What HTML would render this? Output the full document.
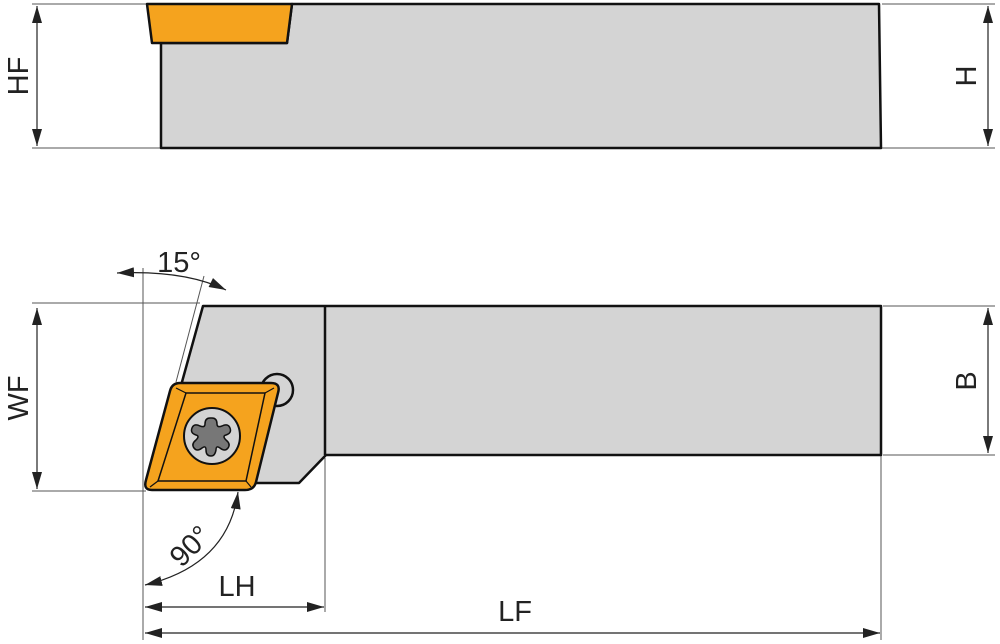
<!DOCTYPE html>
<html><head><style>body{margin:0;background:#fff}svg{display:block}text{font-family:"Liberation Sans",sans-serif;fill:#222}</style></head><body>
<svg width="1000" height="644" viewBox="0 0 1000 644" xmlns="http://www.w3.org/2000/svg">
<defs><marker id="a" viewBox="0 0 10 10" refX="10" refY="5" markerWidth="17" markerHeight="10" markerUnits="userSpaceOnUse" orient="auto-start-reverse" preserveAspectRatio="none"><path d="M0,0L10,5L0,10z" fill="#222"/></marker></defs>
<g stroke="#555" stroke-width="1" fill="none">
<line x1="32" y1="4" x2="147" y2="4"/><line x1="32" y1="148" x2="160" y2="148"/>
<line x1="882" y1="4" x2="995" y2="4"/><line x1="882" y1="148" x2="995" y2="148"/>
<line x1="32" y1="303" x2="200" y2="303"/><line x1="32" y1="491" x2="146" y2="491"/>
<line x1="883" y1="306" x2="995" y2="306"/><line x1="883" y1="455" x2="995" y2="455"/>
<line x1="143" y1="268" x2="143" y2="640"/><line x1="325" y1="458" x2="325" y2="612"/><line x1="881" y1="456" x2="881" y2="640"/>
<line x1="176" y1="382" x2="204" y2="276"/>
</g>
<g stroke="#222" stroke-width="1.2" fill="none">
<line x1="37" y1="6" x2="37" y2="146" marker-start="url(#a)" marker-end="url(#a)"/>
<line x1="988" y1="6" x2="988" y2="146" marker-start="url(#a)" marker-end="url(#a)"/>
<line x1="37" y1="308" x2="37" y2="489" marker-start="url(#a)" marker-end="url(#a)"/>
<line x1="988" y1="308" x2="988" y2="453" marker-start="url(#a)" marker-end="url(#a)"/>
<line x1="145" y1="607" x2="324" y2="607" marker-start="url(#a)" marker-end="url(#a)"/>
<line x1="145" y1="633" x2="880" y2="633" marker-start="url(#a)" marker-end="url(#a)"/>
<path d="M145,585 Q228,565 238,492" marker-start="url(#a)" marker-end="url(#a)"/>
<path d="M117,273 Q185,270 226,290" marker-start="url(#a)" marker-end="url(#a)"/>
</g>
<polygon points="161,43 161,148 881,148 879,4 292,4 287,43" fill="#d4d4d4" stroke="#111" stroke-width="2.5" stroke-linejoin="round"/>
<polygon points="147,4 292,4 287,43 152,43" fill="#f5a31e" stroke="#111" stroke-width="2.5" stroke-linejoin="round"/>
<polygon points="203,306 881,306 881,455 326,455 299,483 240,483 182,382" fill="#d4d4d4" stroke="#111" stroke-width="2.5" stroke-linejoin="round"/>
<line x1="325" y1="306" x2="325" y2="455" stroke="#111" stroke-width="2.5"/>
<circle cx="277" cy="390" r="16" fill="#d4d4d4" stroke="#111" stroke-width="2.5"/>
<path d="M180,383 L271,383 Q281,383 278,393 L256,482 Q254,490 245,490 L152,490 Q143,490 146,480 L170,391 Q172,383 180,383 Z" fill="#f5a31e" stroke="#111" stroke-width="2.5"/>
<path d="M186,393 L265,393 L246,481 L158,481 Z" fill="none" stroke="#111" stroke-width="1.5"/>
<g stroke="#111" stroke-width="1.2"><line x1="176" y1="388" x2="186" y2="393"/><line x1="274" y1="388" x2="265" y2="393"/><line x1="251" y1="487" x2="246" y2="481"/><line x1="150" y1="487" x2="158" y2="481"/></g>
<circle cx="212" cy="436" r="28" fill="#d4d4d4" stroke="#111" stroke-width="2"/>
<path d="M212,418 q5,0 5,6 q0,4 5,2 q6,-3 8,2 q2,5 -4,7 q-4,1 0,5 q5,4 2,8 q-3,4 -8,0 q-4,-3 -4,2 q-1,6 -5,6 q-5,0 -5,-6 q0,-5 -4,-2 q-5,4 -8,0 q-3,-4 2,-8 q4,-4 0,-5 q-6,-2 -4,-7 q2,-5 8,-2 q5,2 5,-2 q0,-6 5,-6z" fill="#777" stroke="#111" stroke-width="1.5"/>
<text font-size="29" transform="translate(28,76) rotate(-90)" text-anchor="middle">HF</text>
<text font-size="29" transform="translate(976,76) rotate(-90)" text-anchor="middle">H</text>
<text font-size="29" transform="translate(28,398) rotate(-90)" text-anchor="middle">WF</text>
<text font-size="29" transform="translate(976,381) rotate(-90)" text-anchor="middle">B</text>
<text x="179" y="272" font-size="29" text-anchor="middle">15°</text>
<text font-size="29" transform="translate(197,553) rotate(-45)" text-anchor="middle">90°</text>
<text x="237" y="596" font-size="29" text-anchor="middle">LH</text>
<text x="515" y="621" font-size="29" text-anchor="middle">LF</text>
</svg>
</body></html>
